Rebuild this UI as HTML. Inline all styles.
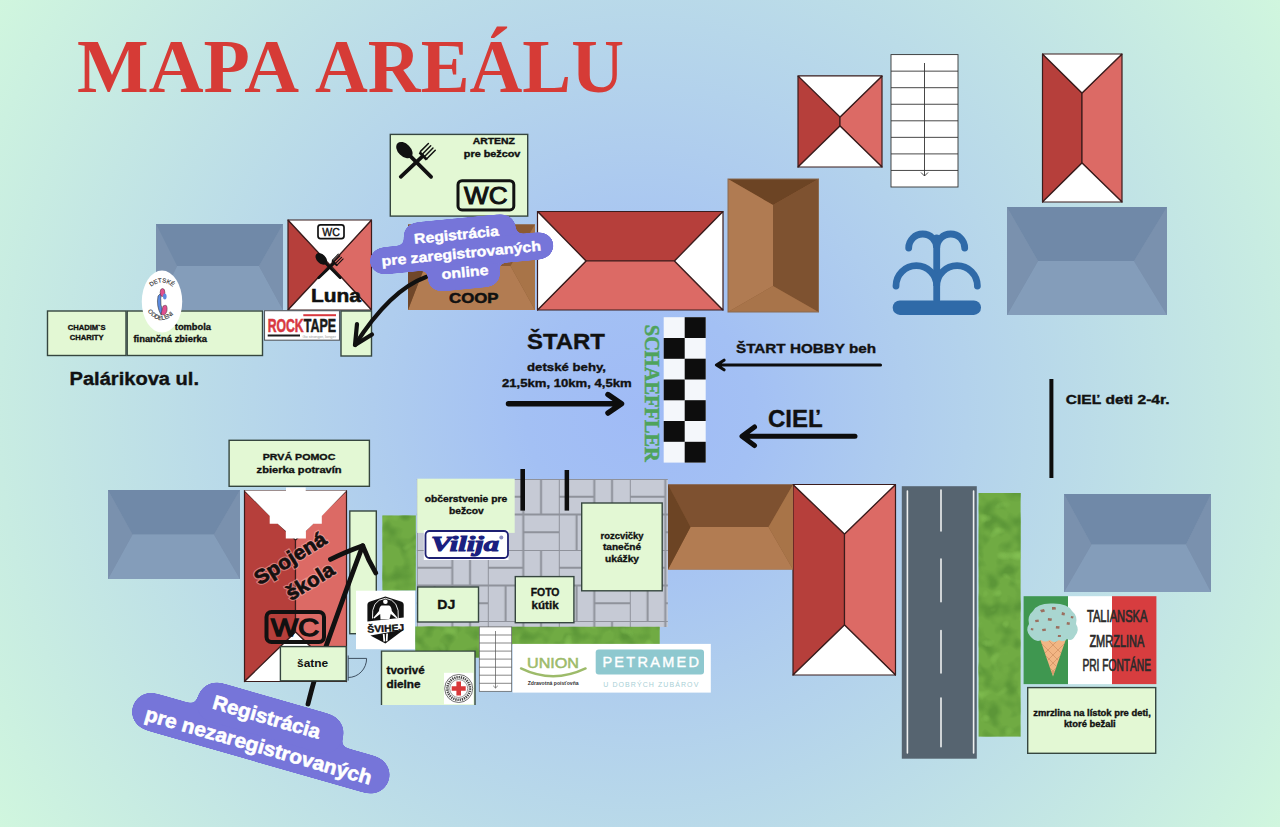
<!DOCTYPE html>
<html><head><meta charset="utf-8">
<style>
html,body{margin:0;padding:0;width:1280px;height:827px;overflow:hidden;}
body{font-family:"Liberation Sans",sans-serif;}
svg{display:block;}
.sf{font-family:"Liberation Serif",serif;}
</style></head><body>
<svg width="1280" height="827" viewBox="0 0 1280 827">
<defs>
<radialGradient id="bg" cx="640" cy="413" r="762" gradientUnits="userSpaceOnUse">
<stop offset="0" stop-color="#a0bbf6"/>
<stop offset="0.15" stop-color="#a3c0f4"/>
<stop offset="0.35" stop-color="#afcdee"/>
<stop offset="1" stop-color="#d0f6de"/>
</radialGradient>

<pattern id="pave" x="416.8" y="479" width="71" height="71" patternUnits="userSpaceOnUse">
<rect width="71" height="71" fill="#c6cad5"/>
<g stroke="#8f929b" stroke-width="2" fill="none">
<path d="M0,0 H71 M0,35.5 H71 M0,0 V71 M35.5,0 V71"/>
<path d="M0,17.75 H35.5 M53.25,0 V35.5 M17.75,35.5 V71 M35.5,53.25 H71"/>
</g>
</pattern>
<filter id="hedgeF" x="0" y="0" width="100%" height="100%" color-interpolation-filters="sRGB">
<feTurbulence type="fractalNoise" baseFrequency="0.06" numOctaves="2" seed="5" result="n"/>
<feColorMatrix in="n" type="matrix" values="0 0 0 0 0.36  0 0 0 0 0.59  0 0 0 0 0.22  3.5 0 0 0 -1.55" result="dark"/>
<feComposite in="dark" in2="SourceGraphic" operator="in" result="d2"/>
<feTurbulence type="fractalNoise" baseFrequency="0.08" numOctaves="1" seed="13" result="n2"/>
<feColorMatrix in="n2" type="matrix" values="0 0 0 0 0.52  0 0 0 0 0.76  0 0 0 0 0.33  4 0 0 0 -2.4" result="lite"/>
<feComposite in="lite" in2="SourceGraphic" operator="in" result="l2"/>
<feMerge><feMergeNode in="SourceGraphic"/><feMergeNode in="d2"/><feMergeNode in="l2"/></feMerge>
</filter>
<filter id="goo" x="-10%" y="-30%" width="120%" height="160%" color-interpolation-filters="sRGB">
<feGaussianBlur in="SourceGraphic" stdDeviation="4" result="b"/>
<feColorMatrix in="b" type="matrix" values="1 0 0 0 0  0 1 0 0 0  0 0 1 0 0  0 0 0 24 -11" result="g"/>
<feComposite in="SourceGraphic" in2="g" operator="atop"/>
</filter>
</defs>
<rect width="1280" height="827" fill="url(#bg)"/>

<!-- title -->
<g class="sf" font-weight="bold" font-size="77" fill="#d63b36">
<text class="sf" x="77" y="91.8" textLength="222" lengthAdjust="spacingAndGlyphs">MAPA</text>
<text class="sf" x="315" y="91.8" textLength="309" lengthAdjust="spacingAndGlyphs">AREÁLU</text>
</g>

<!-- blue-gray hip roofs -->
<g fill="#7a90ad"><rect x="156" y="224" width="127" height="86"/><rect x="1007" y="207" width="160" height="108"/><rect x="108" y="490" width="132" height="89"/><rect x="1064" y="494" width="147" height="98"/></g>
<g id="bg1">
<polygon points="156,224 283,224 259,266 177,266" fill="#7089a8"/>
<polygon points="156,310 283,310 259,266 177,266" fill="#849dba"/>
<polygon points="156,224 177,266 156,310" fill="#7a91ae"/>
<polygon points="283,224 259,266 283,310" fill="#7a91ae"/>
</g>
<g>
<polygon points="1007,207 1167,207 1134,261 1038,261" fill="#7089a8"/>
<polygon points="1007,315 1167,315 1134,261 1038,261" fill="#849dba"/>
<polygon points="1007,207 1038,261 1007,315" fill="#7a91ae"/>
<polygon points="1167,207 1134,261 1167,315" fill="#7a91ae"/>
</g>
<g>
<polygon points="108,490 240,490 214,534.5 132.5,534.5" fill="#7089a8"/>
<polygon points="108,579 240,579 214,534.5 132.5,534.5" fill="#849dba"/>
<polygon points="108,490 132.5,534.5 108,579" fill="#7a91ae"/>
<polygon points="240,490 214,534.5 240,579" fill="#7a91ae"/>
</g>
<g>
<polygon points="1064,494 1211,494 1186,544.5 1091.5,544.5" fill="#7089a8"/>
<polygon points="1064,592 1211,592 1186,544.5 1091.5,544.5" fill="#849dba"/>
<polygon points="1064,494 1091.5,544.5 1064,592" fill="#7a91ae"/>
<polygon points="1211,494 1186,544.5 1211,592" fill="#7a91ae"/>
</g>

<!-- red roofs -->
<g stroke="#3b1c1c" stroke-width="1.2" stroke-linejoin="round">
<!-- big horizontal -->
<polygon points="537.5,211.5 723,211.5 674.5,261 586,261" fill="#b63f3b"/>
<polygon points="537.5,310 723,310 674.5,261 586,261" fill="#dc6a65"/>
<polygon points="537.5,211.5 586,261 537.5,310" fill="#ffffff"/>
<polygon points="723,211.5 674.5,261 723,310" fill="#ffffff"/>
<!-- small hourglass -->
<polygon points="798,76 882,76 840,117 840,126 798,167" fill="#b63f3b"/>
<polygon points="882,76 840,117 840,126 882,167" fill="#dc6a65"/>
<polygon points="798,76 882,76 840,117" fill="#ffffff"/>
<polygon points="798,167 882,167 840,126" fill="#ffffff"/>
<!-- tall vertical -->
<polygon points="1042.5,54 1082,93 1082,163 1042.5,202" fill="#b63f3b"/>
<polygon points="1122,54 1082,93 1082,163 1122,202" fill="#dc6a65"/>
<polygon points="1042.5,54 1122,54 1082,93" fill="#ffffff"/>
<polygon points="1042.5,202 1122,202 1082,163" fill="#ffffff"/>
<!-- Luna -->
<polygon points="288,220 330,265 288,310" fill="#b63f3b"/>
<polygon points="371.5,220 330,265 371.5,310" fill="#dc6a65"/>
<polygon points="288,220 371.5,220 330,265" fill="#ffffff"/>
<polygon points="288,310 371.5,310 330,265" fill="#ffffff"/>
<!-- bottom red -->
<polygon points="793,484.5 844.5,534 844.5,625 793,675" fill="#b63f3b"/>
<polygon points="895.5,484.5 844.5,534 844.5,625 895.5,675" fill="#dc6a65"/>
<polygon points="793,484.5 895.5,484.5 844.5,534" fill="#ffffff"/>
<polygon points="793,675 895.5,675 844.5,625" fill="#ffffff"/>
<!-- spojena skola -->
<polygon points="244.5,490.5 295.5,540 295.5,632 244.5,681.5" fill="#b63f3b"/>
<polygon points="346.5,490.5 295.5,540 295.5,632 346.5,681.5" fill="#dc6a65"/>
<polygon points="244.5,490.5 346.5,490.5 295.5,540" fill="#ffffff"/>
<polygon points="244.5,681.5 346.5,681.5 295.5,632" fill="#ffffff"/>
</g>

<!-- brown roofs -->
<g fill="#8a5c36"><rect x="728" y="179" width="90.5" height="133"/><rect x="668" y="484.5" width="125" height="85"/><rect x="408" y="224.5" width="127" height="85.5"/></g>
<g>
<!-- top vertical brown -->
<polygon points="728,179 818.5,179 773,205" fill="#6c4424"/>
<polygon points="728,179 773,205 773,286 728,312" fill="#b07b52"/>
<polygon points="818.5,179 773,205 773,286 818.5,312" fill="#7e5230"/>
<polygon points="728,312 818.5,312 773,286" fill="#a8744a"/>
<rect x="728" y="179" width="90.5" height="133" fill="none" stroke="#8a6a50" stroke-width="1"/>
<!-- bottom horizontal brown -->
<polygon points="668,484.5 793,484.5 768.5,527 690.5,527" fill="#7e5130"/>
<polygon points="668,569.5 793,569.5 768.5,527 690.5,527" fill="#b27c52"/>
<polygon points="668,484.5 690.5,527 668,569.5" fill="#6c4424"/>
<polygon points="793,484.5 768.5,527 793,569.5" fill="#a87448"/>
<!-- COOP -->
<polygon points="408,224.5 535,224.5 510.5,266 425,266" fill="#8b5a33"/>
<polygon points="408,310 535,310 510.5,266 425,266" fill="#b27c52"/>
<polygon points="408,224.5 425,266 408,310" fill="#70472a"/>
<polygon points="535,224.5 510.5,266 535,310" fill="#a87448"/>
</g>
<text x="449" y="302.5" font-weight="bold" font-size="14" fill="#111" stroke="#111" stroke-width="0.5" textLength="49.5" lengthAdjust="spacingAndGlyphs">COOP</text>


<!-- green boxes -->
<g fill="#e3f8d4" stroke="#36463f" stroke-width="1.4">
<rect x="47.5" y="311" width="78.5" height="44.5"/>
<rect x="127.2" y="311" width="135.3" height="44.5"/>
<rect x="341" y="311" width="30.5" height="45"/>
<rect x="390.3" y="134.4" width="137.4" height="81.7"/>
<rect x="229.1" y="440.3" width="140.3" height="46"/>
</g>
<g font-weight="bold" fill="#111" stroke="#111" stroke-width="0.35">
<text x="86.7" y="330.2" font-size="7.6" text-anchor="middle">CHADIM`S</text>
<text x="86.7" y="340.4" font-size="7.6" text-anchor="middle">CHARITY</text>
<text x="174.8" y="330.2" font-size="9.5" textLength="36.2" lengthAdjust="spacingAndGlyphs">tombola</text>
<text x="133.4" y="341.7" font-size="9.5" textLength="73.7" lengthAdjust="spacingAndGlyphs">finančná zbierka</text>
<text x="69.5" y="385.4" font-size="17.5" textLength="129.5" lengthAdjust="spacingAndGlyphs">Palárikova ul.</text>
<text x="472.7" y="143.8" font-size="8.5" textLength="42.1" lengthAdjust="spacingAndGlyphs">ARTENZ</text>
<text x="463.8" y="156.7" font-size="8.5" textLength="56.6" lengthAdjust="spacingAndGlyphs">pre bežcov</text>
<text x="262.7" y="459.6" font-size="9.5" textLength="72.7" lengthAdjust="spacingAndGlyphs">PRVÁ POMOC</text>
<text x="256.6" y="473.1" font-size="9.5" textLength="85" lengthAdjust="spacingAndGlyphs">zbierka potravín</text>
</g>
<!-- WC badge artenz -->
<rect x="458" y="180.7" width="55.8" height="29.2" rx="4" fill="none" stroke="#111" stroke-width="3"/>
<text x="464" y="204.2" font-size="24" fill="#111" stroke="#111" stroke-width="1" textLength="43.5" lengthAdjust="spacingAndGlyphs">WC</text>


<!-- utensils symbol -->
<symbol id="ut" viewBox="0 0 44 40">
<g fill="#111" stroke="#111" stroke-linecap="round">
<ellipse cx="9" cy="10.5" rx="9.8" ry="6.4" transform="rotate(45 9 10.5)" stroke="none"/>
<line x1="14" y1="15.5" x2="36" y2="37.5" stroke-width="3.8"/>
<line x1="27.5" y1="16.5" x2="5.3" y2="37.5" stroke-width="3.8"/>
<polygon points="25,11.5 33,19.5 30.5,21 23.5,14" stroke="none"/>
<path d="M25.3,11.8 L33.3,3.8 M27.6,14.1 L35.6,6.1 M29.9,16.4 L37.9,8.4 M32.2,18.7 L40.2,10.7" stroke-width="1.5" fill="none"/>
</g>
</symbol>
<use href="#ut" x="395.5" y="139.7" width="43.5" height="39.6"/>
<use href="#ut" x="314.8" y="251.5" width="31.2" height="28"/>
<rect x="318" y="224.8" width="26" height="13.8" rx="2.5" fill="#fff" stroke="#111" stroke-width="1.7"/>
<text x="322.3" y="235.6" font-size="11.5" fill="#111" stroke="#111" stroke-width="0.4" textLength="17.5" lengthAdjust="spacingAndGlyphs">WC</text>
<text x="311" y="301.8" font-size="18" font-weight="bold" fill="#111" stroke="#111" stroke-width="0.5" textLength="50" lengthAdjust="spacingAndGlyphs">Luna</text>

<!-- rocktape -->
<rect x="264.5" y="310.7" width="75" height="29.5" fill="#fff" stroke="#555b60" stroke-width="1.1"/>
<text x="267.7" y="332.4" font-size="19" font-weight="bold" fill="#d8383f" stroke="#d8383f" stroke-width="0.6" textLength="36" lengthAdjust="spacingAndGlyphs">ROCK</text>
<text x="303.8" y="332.4" font-size="19" font-weight="bold" fill="#1a1a1a" stroke="#1a1a1a" stroke-width="0.6" textLength="32.3" lengthAdjust="spacingAndGlyphs">TAPE</text>
<rect x="303.3" y="314.2" width="32.7" height="2" fill="#d8383f"/>
<rect x="267.7" y="334.5" width="32.3" height="2" fill="#1a1a1a"/>
<text x="302.5" y="338" font-size="3.6" fill="#999" textLength="33.5" lengthAdjust="spacingAndGlyphs">Go stronger, longer</text>

<!-- detske oddelenie -->
<ellipse cx="162" cy="301.6" rx="20.2" ry="31" fill="#fff"/>
<path d="M158,296 Q156,306 161,315 Q164,314 161,305 Q160,298 162,292 Z" fill="#5b8be0" stroke="#222" stroke-width="0.5"/>
<ellipse cx="162.5" cy="292.5" rx="2.4" ry="4" fill="#e0508f" stroke="#222" stroke-width="0.4"/>
<path d="M163,306 Q168,303 167,311 Q165,317 161,314 Z" fill="#e0508f" stroke="#222" stroke-width="0.4"/>
<ellipse cx="164.8" cy="296.5" rx="1.8" ry="3" fill="#5b8be0"/>
<path id="arcT" d="M151,287 Q162,278 173,287" fill="none"/>
<path id="arcB" d="M149,313 Q161,327 175,313" fill="none"/>
<text font-size="6" fill="#333" stroke="#333" stroke-width="0.15"><textPath href="#arcT" startOffset="50%" text-anchor="middle">DETSKÉ</textPath></text>
<text font-size="6" fill="#333" stroke="#333" stroke-width="0.15"><textPath href="#arcB" startOffset="50%" text-anchor="middle">ODDELENIE</textPath></text>

<!-- arrow from blob top -->
<g stroke="#111" stroke-width="4.2" fill="none" stroke-linecap="round" stroke-linejoin="round">
<path d="M426,277 Q390,290 355,345"/>
<path d="M357,324 L355,345 L372,334.5"/>
</g>

<!-- checkered flag -->
<g>
<rect x="663.7" y="317.2" width="42" height="145.4" fill="#f4f7fb"/>
<g fill="#0d0d0d">
<rect x="684.7" y="317.2" width="21" height="20.8"/>
<rect x="663.7" y="338" width="21" height="20.8"/>
<rect x="684.7" y="358.7" width="21" height="20.8"/>
<rect x="663.7" y="379.5" width="21" height="20.8"/>
<rect x="684.7" y="400.2" width="21" height="20.8"/>
<rect x="663.7" y="421" width="21" height="20.8"/>
<rect x="684.7" y="441.8" width="21" height="20.8"/>
</g>
</g>
<text class="sf" transform="translate(643.5,324.8) rotate(90)" font-size="20" font-weight="bold" fill="#4fa35c" stroke="#4fa35c" stroke-width="0.5" textLength="137" lengthAdjust="spacingAndGlyphs" dy="-1">SCHAEFFLER</text>

<!-- start texts -->
<g font-weight="bold" fill="#111" stroke="#111" stroke-width="0.35">
<text x="527" y="348.7" font-size="22" textLength="78" lengthAdjust="spacingAndGlyphs">ŠTART</text>
<text x="566.5" y="370.7" font-size="11" text-anchor="middle" textLength="79" lengthAdjust="spacingAndGlyphs">detské behy,</text>
<text x="502" y="387" font-size="11" textLength="129.6" lengthAdjust="spacingAndGlyphs">21,5km, 10km, 4,5km</text>
<text x="736" y="352.6" font-size="13" textLength="140" lengthAdjust="spacingAndGlyphs">ŠTART HOBBY beh</text>
<text x="768" y="426.5" font-size="24" textLength="54.8" lengthAdjust="spacingAndGlyphs">CIEĽ</text>
<text x="1065.8" y="403.7" font-size="12" textLength="103.7" lengthAdjust="spacingAndGlyphs">CIEĽ deti 2-4r.</text>
</g>
<g stroke="#0d0d0d" stroke-width="4.2" fill="none" stroke-linecap="round" stroke-linejoin="round">
<path d="M508.5,403.8 L620,403.8 M608,394.6 L621.5,403.8 L608,413" stroke-width="5.5"/>
<path d="M880.5,365 L717,365 M724,360.2 L716.5,365 L724,369.8" stroke-width="3.1"/>
<path d="M855,436.3 L743,436.3 M754.5,427 L742,436.3 L754.5,445.6" stroke-width="5"/>
</g>
<rect x="1049.4" y="379" width="4" height="99" fill="#0d0d0d"/>

<!-- fountain -->
<g stroke="#2f6aa8" stroke-width="6.8" fill="none" stroke-linecap="round">
<path d="M936.7,300 L936.7,238"/>
<path d="M908.7,248 A14,14 0 0 1 936.7,248 A14,14 0 0 1 964.7,248"/>
<path d="M896,286 A20.35,20.35 0 0 1 936.7,286 A20.35,20.35 0 0 1 977.4,286"/>
</g>
<rect x="892.7" y="300.4" width="88.3" height="14.5" rx="7.2" fill="#2f6aa8"/>

<!-- stairs -->
<g stroke="#333" stroke-width="0.9" fill="#fff">
<rect x="891" y="54.6" width="67" height="132.4"/>
<path d="M891,71.15 H958 M891,87.7 H958 M891,104.25 H958 M891,120.8 H958 M891,137.35 H958 M891,153.9 H958 M891,170.45 H958" fill="none"/>
<path d="M924.5,63 V176 M921,172.5 L924.5,176 L928,172.5" fill="none"/>
</g>


<!-- paved area -->
<rect x="416.8" y="479" width="251" height="148" fill="url(#pave)"/>
<rect x="520.4" y="469" width="4.6" height="41.6" fill="#0d0d0d"/>
<rect x="564.6" y="470" width="4.5" height="40.6" fill="#0d0d0d"/>

<!-- hedges -->
<g filter="url(#hedgeF)">
<rect x="382.4" y="515.5" width="33.4" height="75" fill="#70ab43"/>
<rect x="415.3" y="626.5" width="64" height="31" fill="#70ab43"/>
<rect x="511.7" y="626.8" width="148" height="17.5" fill="#70ab43"/>
<rect x="978.6" y="493" width="42" height="243.6" fill="#70ab43"/>
</g>

<!-- bottom boxes -->
<rect x="417.2" y="478.7" width="97.5" height="54.2" fill="#e3f8d4"/>
<g fill="#e3f8d4" stroke="#36463f" stroke-width="1.4">
<rect x="581.7" y="503" width="80.5" height="87.8"/>
<rect x="515.3" y="576.6" width="58.6" height="46.1"/>
<rect x="417.6" y="587" width="60.9" height="35"/>

<rect x="349.8" y="511" width="26.5" height="122.7"/>
<rect x="1027.7" y="687.6" width="128" height="65.7"/>
</g>
<g font-weight="bold" fill="#111" stroke="#111" stroke-width="0.35">
<text x="466" y="502" font-size="9.8" text-anchor="middle" textLength="82.6" lengthAdjust="spacingAndGlyphs">občerstvenie pre</text>
<text x="466.4" y="513.5" font-size="9.8" text-anchor="middle" textLength="34.8" lengthAdjust="spacingAndGlyphs">bežcov</text>
<text x="622" y="539" font-size="9.8" text-anchor="middle" textLength="43" lengthAdjust="spacingAndGlyphs">rozcvičky</text>
<text x="622" y="550.3" font-size="9.8" text-anchor="middle" textLength="38" lengthAdjust="spacingAndGlyphs">tanečné</text>
<text x="622" y="561.6" font-size="9.8" text-anchor="middle" textLength="34" lengthAdjust="spacingAndGlyphs">ukážky</text>
<text x="545.1" y="596.1" font-size="11" text-anchor="middle" textLength="28.8" lengthAdjust="spacingAndGlyphs">FOTO</text>
<text x="545.1" y="608.9" font-size="11" text-anchor="middle" textLength="27" lengthAdjust="spacingAndGlyphs">kútik</text>
<text x="437.3" y="609.3" font-size="13.5" textLength="18" lengthAdjust="spacingAndGlyphs">DJ</text>
<text x="1092" y="716.4" font-size="8.5" text-anchor="middle" textLength="117.6" lengthAdjust="spacingAndGlyphs">zmrzlina na lístok pre deti,</text>
<text x="1089.8" y="727.3" font-size="8.5" text-anchor="middle" textLength="51.8" lengthAdjust="spacingAndGlyphs">ktoré bežali</text>
</g>

<!-- vilija -->
<rect x="423.8" y="530" width="84.7" height="30" fill="#fff"/>
<rect x="425.5" y="531" width="82.5" height="27" rx="4" fill="#fff" stroke="#1d1f72" stroke-width="1.8"/>
<text class="sf" x="431" y="550.8" font-size="22" font-weight="bold" font-style="italic" fill="#1a1f80" stroke="#1a1f80" stroke-width="1.1" textLength="68" lengthAdjust="spacingAndGlyphs">Vilija</text>
<circle cx="501.3" cy="537.5" r="2" fill="#8a8cc0"/>

<!-- svihej -->
<rect x="356" y="590.7" width="59" height="58.5" fill="#fff"/>
<path d="M367.4,605 Q367.4,602.2 370.2,601.4 L385.4,596.6 L400.9,601.4 Q403.7,602.2 403.7,605 L403.7,617.4 L367.4,621.4 Z" fill="#111"/>
<path d="M370.4,635.4 L404.1,629.4 L385.4,643.6 Z" fill="#111"/>
<path d="M372.5,618.5 Q371,600 385.4,598.3 Q399.8,600 398.3,618.5" fill="none" stroke="#fff" stroke-width="0.9"/>
<circle cx="385.4" cy="601.8" r="2.3" fill="#fff"/>
<path d="M381.6,605.5 L389.2,605.5 Q391.5,606.5 391.8,611 L397.5,617.8 L396.7,618.6 L390.8,614 L389.5,619 L380.5,619.5 L380.2,614 L374.2,618.6 L373.4,617.8 L379,611 Q379.3,606.5 381.6,605.5 Z" fill="#fff"/>
<path d="M382.8,634 L384.6,634 L385.2,641.5 L383.4,641.5 Z M386.2,633.6 L388,633.6 L387.5,641.2 L385.8,641.2 Z" fill="#fff"/>
<text x="367.4" y="631.8" font-size="9.6" font-weight="bold" fill="#111" stroke="#111" stroke-width="0.4" textLength="36.7" lengthAdjust="spacingAndGlyphs" transform="rotate(-3 385 628)">ŠVIHEJ</text>
<!-- small stairs -->
<g stroke="#555" stroke-width="0.7" fill="#fff">
<rect x="479.3" y="626.9" width="32.4" height="64.4"/>
<path d="M479.3,635 H511.7 M479.3,643 H511.7 M479.3,651.1 H511.7 M479.3,659.1 H511.7 M479.3,667.2 H511.7 M479.3,675.2 H511.7 M479.3,683.3 H511.7" fill="none"/>
<path d="M495.5,631 V688 M493.2,685.8 L495.5,688 L497.8,685.8" fill="none"/>
</g>

<path d="M381.5,705 V651.1 H475 V705" fill="#e3f8d4" stroke="#36463f" stroke-width="1.4"/>
<g font-weight="bold" fill="#111" stroke="#111" stroke-width="0.35">
<text x="386.5" y="673.6" font-size="11" textLength="38.2" lengthAdjust="spacingAndGlyphs">tvorivé</text>
<text x="386.5" y="687.7" font-size="11" textLength="34" lengthAdjust="spacingAndGlyphs">dielne</text>
</g>
<!-- red cross -->
<rect x="444" y="672.8" width="29.4" height="31.4" fill="#fff"/>
<circle cx="458.7" cy="688.5" r="14" fill="#fff" stroke="#333" stroke-width="0.7"/>
<circle cx="458.7" cy="688.5" r="11.3" fill="none" stroke="#444" stroke-width="2.6" stroke-dasharray="1.3 0.9"/>
<circle cx="458.7" cy="688.5" r="9" fill="none" stroke="#333" stroke-width="0.5"/>
<path d="M456.4,681.5 h4.6 v4.7 h4.7 v4.6 h-4.7 v4.7 h-4.6 v-4.7 h-4.7 v-4.6 h4.7 Z" fill="#d8383a"/>

<!-- union petramed -->
<rect x="512.6" y="643.9" width="198.2" height="48.7" fill="#fff"/>
<text x="527" y="667.6" font-size="14" fill="#9dbb6a" stroke="#9dbb6a" stroke-width="0.5" textLength="52" lengthAdjust="spacingAndGlyphs">UNION</text>
<path d="M521,668.4 Q553,684 585.6,668.4" fill="none" stroke="#9dbb6a" stroke-width="2.4" stroke-linecap="round"/>
<text x="527.7" y="685.2" font-size="4.8" font-weight="bold" fill="#333" textLength="51" lengthAdjust="spacingAndGlyphs">Zdravotná poisťovňa</text>
<rect x="595.7" y="649.4" width="108.3" height="25.2" rx="3" fill="#8ec8cf"/>
<text x="602.4" y="667.4" font-size="14.5" fill="#fff" stroke="#fff" stroke-width="0.4" textLength="96.6" lengthAdjust="spacing">PETRAMED</text>
<text x="603.3" y="686.9" font-size="7" fill="#a9d0d6" textLength="95" lengthAdjust="spacing">U DOBRÝCH ZUBÁROV</text>

<!-- road -->
<rect x="901.8" y="486.2" width="75" height="272.5" fill="#566470"/>
<g stroke="#eef0f0" stroke-width="1.6" stroke-linecap="round">
<path d="M907.4,491 V753 M973.6,491 V753"/>
<path d="M941,490 V531 M941,559 V601.7 M941,630.5 V673 M941,698 V746.7"/>
</g>

<!-- italian flag -->
<rect x="1023.6" y="596.2" width="44.4" height="87.9" fill="#3f9750"/>
<rect x="1068" y="596.2" width="44" height="87.9" fill="#ffffff"/>
<rect x="1112" y="596.2" width="44.4" height="87.9" fill="#d73d3f"/>
<g font-size="17" fill="#2a2a2a" stroke="#2a2a2a" stroke-width="0.7">
<text x="1086.9" y="621.8" textLength="60.6" lengthAdjust="spacingAndGlyphs">TALIANSKA</text>
<text x="1089.4" y="646.5" textLength="55" lengthAdjust="spacingAndGlyphs">ZMRZLINA</text>
<text x="1082.4" y="671.2" textLength="68.6" lengthAdjust="spacingAndGlyphs">PRI FONTÁNE</text>
</g>
<clipPath id="coneClip"><path d="M1040,639 L1066,639 L1053,676.5 Z"/></clipPath>
<path d="M1040,639 L1066,639 L1053,676.5 Z" fill="#f2b684"/>
<g clip-path="url(#coneClip)" stroke="#c98a5a" stroke-width="0.6">
<path d="M1030,640 L1070,680 M1030,648 L1070,688 M1030,632 L1070,672 M1038,630 L1078,670 M1022,642 L1062,682"/>
<path d="M1076,640 L1036,680 M1076,648 L1036,688 M1076,632 L1036,672 M1068,630 L1028,670 M1084,642 L1044,682"/>
</g>
<path d="M1030,636 Q1025,630 1029,624 Q1027,616 1033,611 Q1037,603 1052,603.4 Q1068,603 1072,611 Q1078,616 1076,624 Q1080,630 1075,636 Q1072,642 1067,639 Q1063,643 1059,640 Q1054,644 1050,640 Q1045,643 1041,640 Q1036,643 1030,636 Z" fill="#a9d6d0"/>
<g fill="#9b6f5f">
<path d="M1040,610 l4,-1 l1,2.5 l-3.5,1 Z"/><path d="M1052,607 l3.5,0 l0.5,2.4 l-4,0.3 Z"/><path d="M1062,612 l3,1 l-0.5,2.6 l-3,-0.6 Z"/>
<path d="M1035,620 l3.5,-0.5 l0.5,2.2 l-3.5,0.6 Z"/><path d="M1048,618 l4,0.5 l-0.6,2.5 l-3.6,-0.5 Z"/><path d="M1067,622 l3,0.6 l-0.5,2.3 l-3,-0.5 Z"/>
<path d="M1042,629 l3.6,-0.6 l0.4,2.4 l-3.5,0.5 Z"/><path d="M1056,626 l3.6,0.3 l-0.3,2.5 l-3.5,-0.3 Z"/><path d="M1031,628 l2.5,0.5 l-0.4,2 l-2.4,-0.4 Z"/>
<path d="M1071,616 l2.6,0.6 l-0.6,2 l-2.3,-0.5 Z"/><path d="M1058,635 l3,0 l-0.2,2 l-3,0 Z"/>
</g>
<!-- spojena skola extras -->
<polygon points="286,487.5 305.7,487.5 305.7,490.5 346.5,490.5 321.8,516 321.8,523.8 313.5,523.8 305.9,530.9 305.9,538.5 285.8,538.5 285.8,530.9 277.6,523.8 269.7,523.8 269.7,516 244.5,490.5 286,490.5" fill="#fff"/>
<g font-weight="bold" font-size="20">
<g transform="translate(259.5,585.5) rotate(-32)">
<text x="0" y="0" fill="none" stroke="#f2b3ae" stroke-width="3" stroke-opacity="0.55" textLength="81" lengthAdjust="spacingAndGlyphs">Spojená</text>
<text x="0" y="0" fill="#141010" stroke="#141010" stroke-width="0.7" textLength="81" lengthAdjust="spacingAndGlyphs">Spojená</text>
</g>
<g transform="translate(291,601) rotate(-31.5)">
<text x="0" y="0" fill="none" stroke="#f2b3ae" stroke-width="3" stroke-opacity="0.55" textLength="53" lengthAdjust="spacingAndGlyphs">škola</text>
<text x="0" y="0" fill="#141010" stroke="#141010" stroke-width="0.7" textLength="53" lengthAdjust="spacingAndGlyphs">škola</text>
</g>
</g>
<rect x="266.5" y="612" width="57.5" height="30" rx="5" fill="none" stroke="#111" stroke-width="4"/>
<text x="271" y="636" font-size="24" fill="#111" stroke="#111" stroke-width="1.4" textLength="48" lengthAdjust="spacingAndGlyphs">WC</text>
<g stroke="#111" stroke-width="4.8" fill="none" stroke-linecap="round" stroke-linejoin="round">
<path d="M308,704 Q312,688 315,678 Q335,620 362.7,545.7"/>
<path d="M330.5,559.4 Q345,552 362.7,545.7 Q368,560 375.8,573"/>
</g>
<rect x="280.4" y="646.6" width="65.8" height="34.2" fill="#e3f8d4" stroke="#36463f" stroke-width="1.4"/>
<text x="297" y="667.1" font-size="11.5" font-weight="bold" fill="#111" textLength="31.2" lengthAdjust="spacingAndGlyphs">šatne</text>
<path d="M348.2,655.5 V680.6 M348.2,658.4 H366.6 A18.4,19 0 0 1 348.2,677.5" fill="none" stroke="#3e4f60" stroke-width="1"/>

<!-- blobs -->
<g filter="url(#goo)"><g transform="translate(132.5,706.5) rotate(16)" fill="#7675d9">
<rect x="0" y="-19" width="267" height="38" rx="19"/>
<rect x="60" y="-47" width="151" height="40" rx="19"/>
</g></g>
<g transform="translate(132.5,706.5) rotate(16)" font-weight="bold" fill="#fff" stroke="#fff" stroke-width="0.6">
<text x="132" y="-20" font-size="20" text-anchor="middle" textLength="111" lengthAdjust="spacingAndGlyphs">Registrácia</text>
<text x="132" y="10" font-size="20" text-anchor="middle" textLength="235" lengthAdjust="spacingAndGlyphs">pre nezaregistrovaných</text>
</g>
<g filter="url(#goo)"><g transform="translate(461.7,258.3) rotate(-5.5)" fill="#7675d9">
<rect x="-56" y="-40" width="113" height="27" rx="13.5"/>
<rect x="-92" y="-18.5" width="185" height="27" rx="13.5"/>
<rect x="-36" y="5" width="73" height="26" rx="13"/>
</g></g>
<g transform="translate(461.7,258.3) rotate(-5.5)" font-weight="bold" fill="#fff" font-size="14" stroke="#fff" stroke-width="0.4">
<text x="-3" y="-19" text-anchor="middle" textLength="85" lengthAdjust="spacingAndGlyphs">Registrácia</text>
<text x="0" y="0" text-anchor="middle" textLength="160" lengthAdjust="spacingAndGlyphs">pre zaregistrovaných</text>
<text x="2" y="19" text-anchor="middle" textLength="47" lengthAdjust="spacingAndGlyphs">online</text>
</g>

</svg>
</body></html>
